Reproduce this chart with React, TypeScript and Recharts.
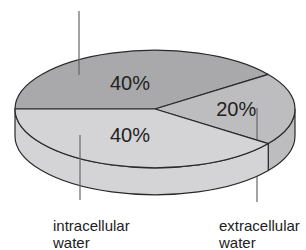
import React from 'react';
import { PieChart, Pie } from 'recharts';

// slices in drawing order, clockwise from 9 o'clock
const slices = ['other', 'extracellular', 'intracellular'];
const values = [40, 20, 40];
const outerLabels = [[], ['extracellular', 'water'], ['intracellular', 'water']];
const fills = ['#a9a9ab', '#bdbdbf', '#d4d4d6'];

const data = slices.map((name, i) => ({ name, value: values[i] }));

const TILT = 0.42;
const DEPTH = 27;
const EDGE = '#2a2a2a';
const LEADER = '#666';
const FONT = '"Liberation Sans", Arial, sans-serif';
// leader lines hanging off each slice (layout only)
const leaders = [
  { x: 79, from: 75, to: 11, textX: 0 },
  { x: 257, from: 108, to: 202, textX: 219 },
  { x: 80, from: 135, to: 200, textX: 53 },
];

const RAD = Math.PI / 180;
const pt = (cx: number, cy: number, rx: number, ry: number, a: number) => [
  cx + rx * Math.cos(a * RAD),
  cy - ry * Math.sin(a * RAD),
];

const facePath = (cx, cy, rx, ry, start, end) => {
  const [x1, y1] = pt(cx, cy, rx, ry, start);
  const [x2, y2] = pt(cx, cy, rx, ry, end);
  const large = Math.abs(start - end) > 180 ? 1 : 0;
  const sweep = start > end ? 1 : 0;
  return `M${cx},${cy} L${x1},${y1} A${rx},${ry} 0 ${large} ${sweep} ${x2},${y2} Z`;
};

const wallPath = (cx, cy, rx, ry, start, end) => {
  const lo = Math.max(Math.min(start, end), -180);
  const hi = Math.min(Math.max(start, end), 0);
  if (hi <= lo) return null;
  const [x1, y1] = pt(cx, cy, rx, ry, hi);
  const [x2, y2] = pt(cx, cy, rx, ry, lo);
  return `M${x1},${y1} A${rx},${ry} 0 0 1 ${x2},${y2} L${x2},${y2 + DEPTH} A${rx},${ry} 0 0 0 ${x1},${y1 + DEPTH} Z`;
};

const Slice3D = (props) => {
  const { cx, cy, outerRadius, startAngle, endAngle, midAngle, index, value } = props;
  const rx = outerRadius;
  const ry = outerRadius * TILT;
  const fill = fills[index];
  const wall = wallPath(cx, cy, rx, ry, startAngle, endAngle);
  const tx = cx + rx * 0.58 * Math.cos(midAngle * RAD);
  const ty = cy - ry * 0.46 * Math.sin(midAngle * RAD);
  const lead = leaders[index];
  const lines = outerLabels[index];
  return (
    <g>
      {wall && <path d={wall} fill={fill} stroke={EDGE} strokeWidth={1.2} strokeLinejoin="round" />}
      <path
        d={facePath(cx, cy, rx, ry, startAngle, endAngle)}
        fill={fill}
        stroke={EDGE}
        strokeWidth={1.2}
        strokeLinejoin="round"
      />
      <text
        x={tx}
        y={ty}
        textAnchor="middle"
        dominantBaseline="central"
        fontFamily={FONT}
        fontSize={20}
        fill="#222"
      >
        {`${value}%`}
      </text>
      <line x1={lead.x} y1={lead.from} x2={lead.x} y2={lead.to} stroke={LEADER} strokeWidth={1.2} />
      {lines.map((l, i) => (
        <text key={i} x={lead.textX} y={231 + i * 17} fontFamily={FONT} fontSize={15} fill="#222">
          {l}
        </text>
      ))}
    </g>
  );
};

export default function App() {
  return (
    <div style={{ position: 'absolute', left: 0, top: 0, background: '#fff' }}>
      <PieChart width={306} height={250}>
        <Pie
          data={data}
          dataKey="value"
          nameKey="name"
          cx={150}
          cy={104}
          outerRadius={140}
          startAngle={180}
          endAngle={-180}
          fill="none"
          stroke="none"
          label={Slice3D}
          labelLine={false}
          isAnimationActive={false}
        />
      </PieChart>
    </div>
  );
}
